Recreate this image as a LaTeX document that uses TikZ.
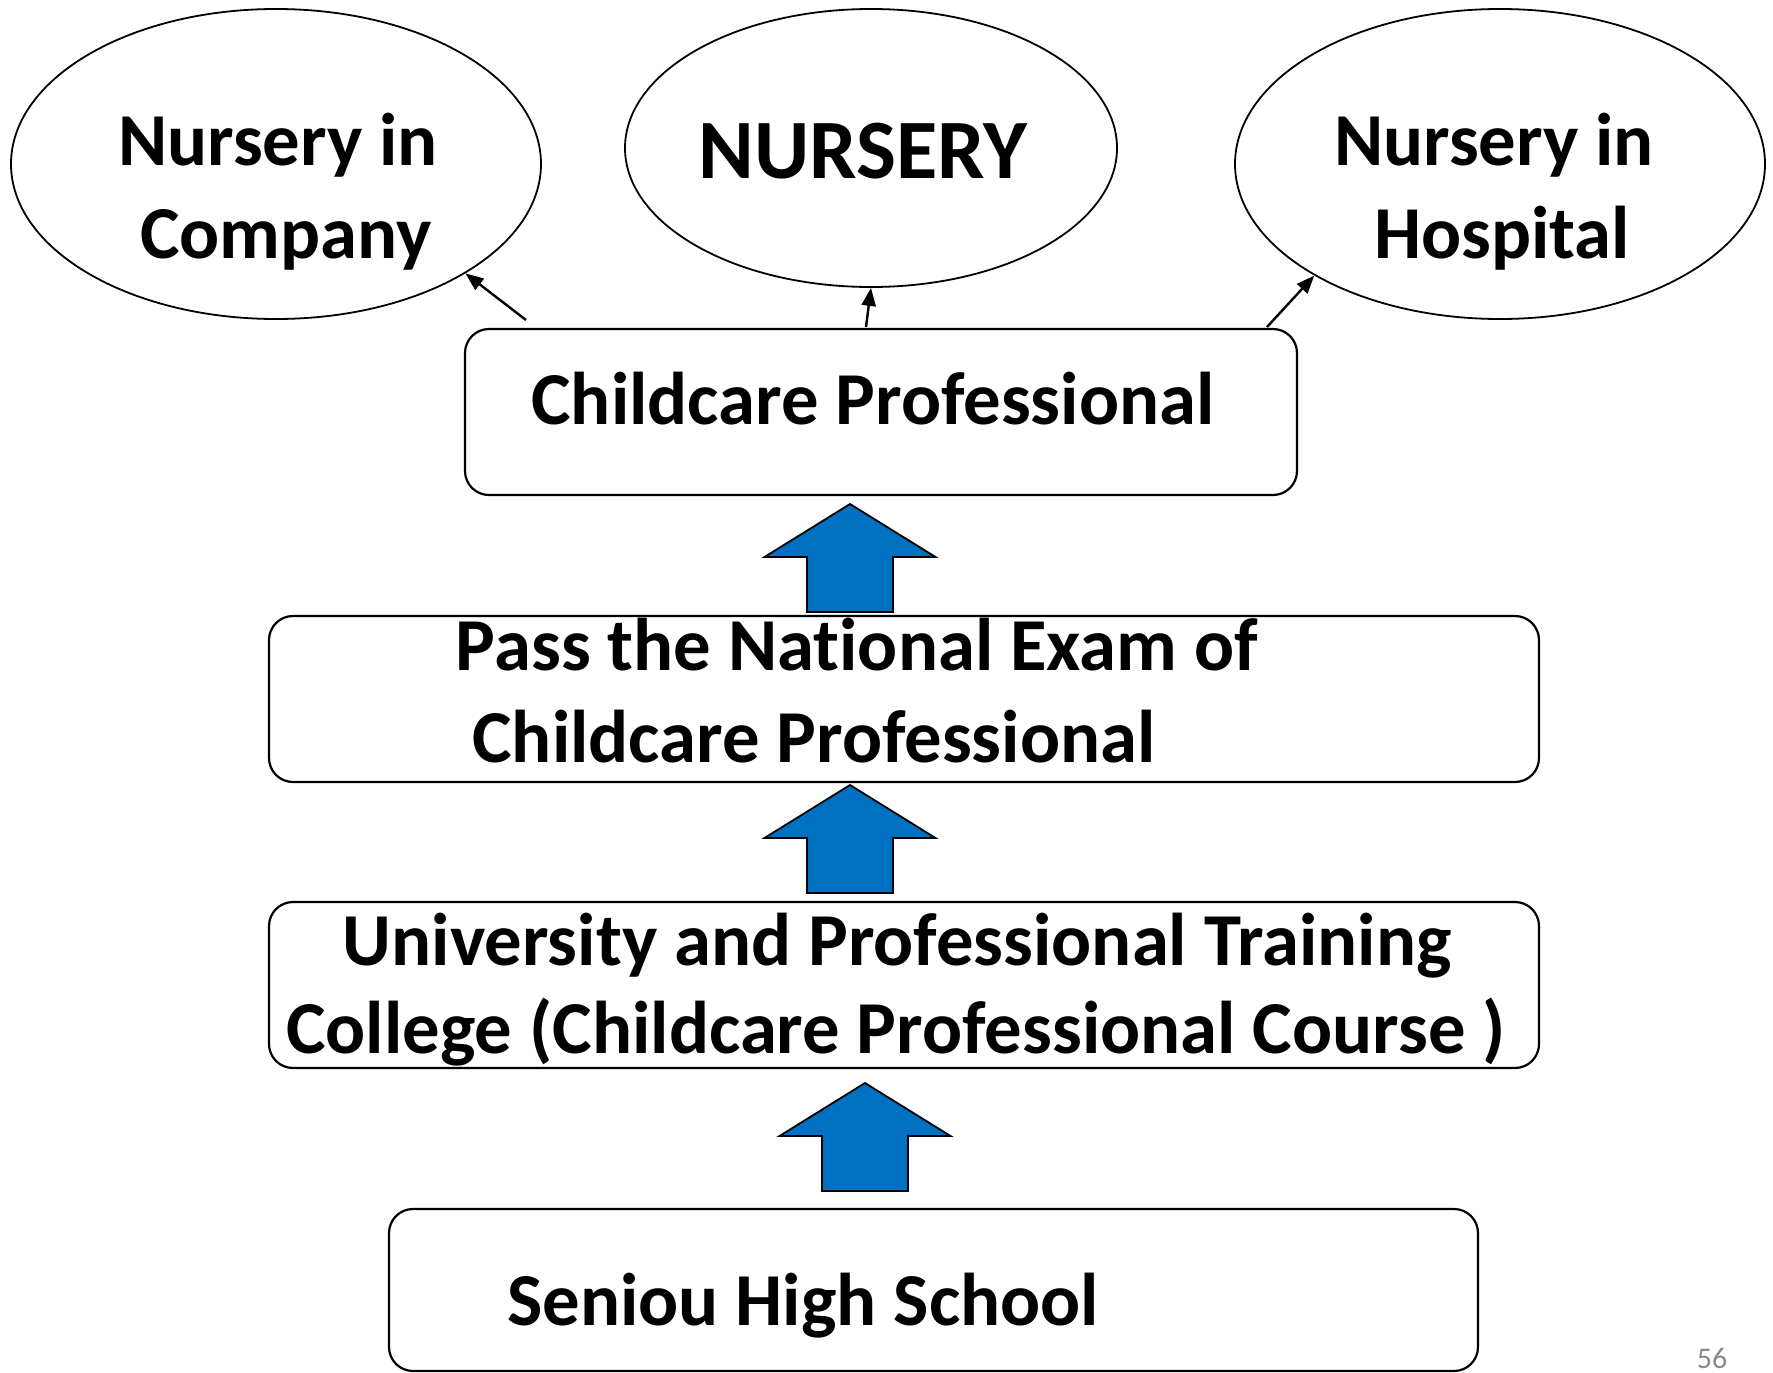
\documentclass[tikz,border=0pt]{standalone}
\usepackage{fontspec}
\setmainfont{Carlito}[Ligatures=NoCommon]
\usetikzlibrary{shapes.geometric,arrows.meta}
\definecolor{officeblue}{HTML}{0070C0}
\definecolor{pggrey}{HTML}{898989}
\begin{document}
\begin{tikzpicture}[x=1pt,y=-1pt,
  bubble/.style={draw=black,line width=1.8pt,ellipse,inner sep=0pt},
  stagebox/.style={draw=black,line width=2.2pt,rounded corners=24pt,rectangle,inner sep=0pt},
  txt/.style={font=\fontsize{74.7}{90}\selectfont\bfseries,inner sep=0pt,anchor=base},
  bigtxt/.style={font=\fontsize{84.5}{100}\selectfont\bfseries,inner sep=0pt,anchor=base},
  thinarrow/.style={line width=2.4pt,-{Triangle[length=18pt,width=14pt]}},
  blockarrow/.style={fill=officeblue,draw=black,line width=1.8pt,line join=miter},
  uparrow/.pic={\draw[blockarrow] (0,0) -- (85.5,53) -- (43,53) -- (43,108) -- (-43,108) -- (-43,53) -- (-85.5,53) -- cycle;}
]
\useasboundingbox (0,0) rectangle (1773,1373);

% ellipses
\node[bubble,minimum width=530pt,minimum height=310pt] (ellL) at (276,164) {};
\node[bubble,minimum width=492pt,minimum height=278pt] (ellM) at (871,148) {};
\node[bubble,minimum width=530pt,minimum height=310pt] (ellR) at (1500,164) {};
\node[txt] (tL1) at (278,165) {Nursery in};
\node[txt] (tL2) at (286,258) {Company};
\node[bigtxt] (tM) at (863,178) {NURSERY};
\node[txt] (tR1) at (1494,165) {Nursery in};
\node[txt] (tR2) at (1502,258) {Hospital};

% boxes
\node[stagebox,minimum width=832pt,minimum height=166pt] (bCP) at (881,412) {};
\node[txt] (tCP) at (873,424) {Childcare Professional};
\node[stagebox,minimum width=1270pt,minimum height=166pt] (bEx) at (904,699) {};
\node[txt] (tEx1) at (857,670) {Pass the National Exam of};
\node[txt] (tEx2) at (814,762) {Childcare Professional};
\node[stagebox,minimum width=1270pt,minimum height=166pt] (bUn) at (904,985) {};
\node[txt] (tUn1) at (897,965) {University and Professional Training};
\node[txt] (tUn2) at (896,1053) {College (Childcare Professional Course )};
\node[stagebox,minimum width=1089pt,minimum height=162pt] (bSH) at (933.5,1290) {};
\node[txt] (tSH) at (803,1325) {Seniou High School};
\node[font=\fontsize{30}{36}\selectfont,text=pggrey,inner sep=0pt,anchor=base] (pg) at (1712,1368) {56};

% thin arrows
\coordinate (sL) at (526,320);
\coordinate (sM) at (866,327);
\coordinate (sR) at (1267,327);
\draw[thinarrow] (sL) -- (ellL.-30.6);
\draw[thinarrow] (sM) -- (ellM.south);
\draw[thinarrow] (sR) -- (ellR.-149.3);

% block arrows
\pic (a1) at (850,504) {uparrow};
\pic (a2) at (850,785) {uparrow};
\pic (a3) at (865,1083) {uparrow};
\end{tikzpicture}
\end{document}
